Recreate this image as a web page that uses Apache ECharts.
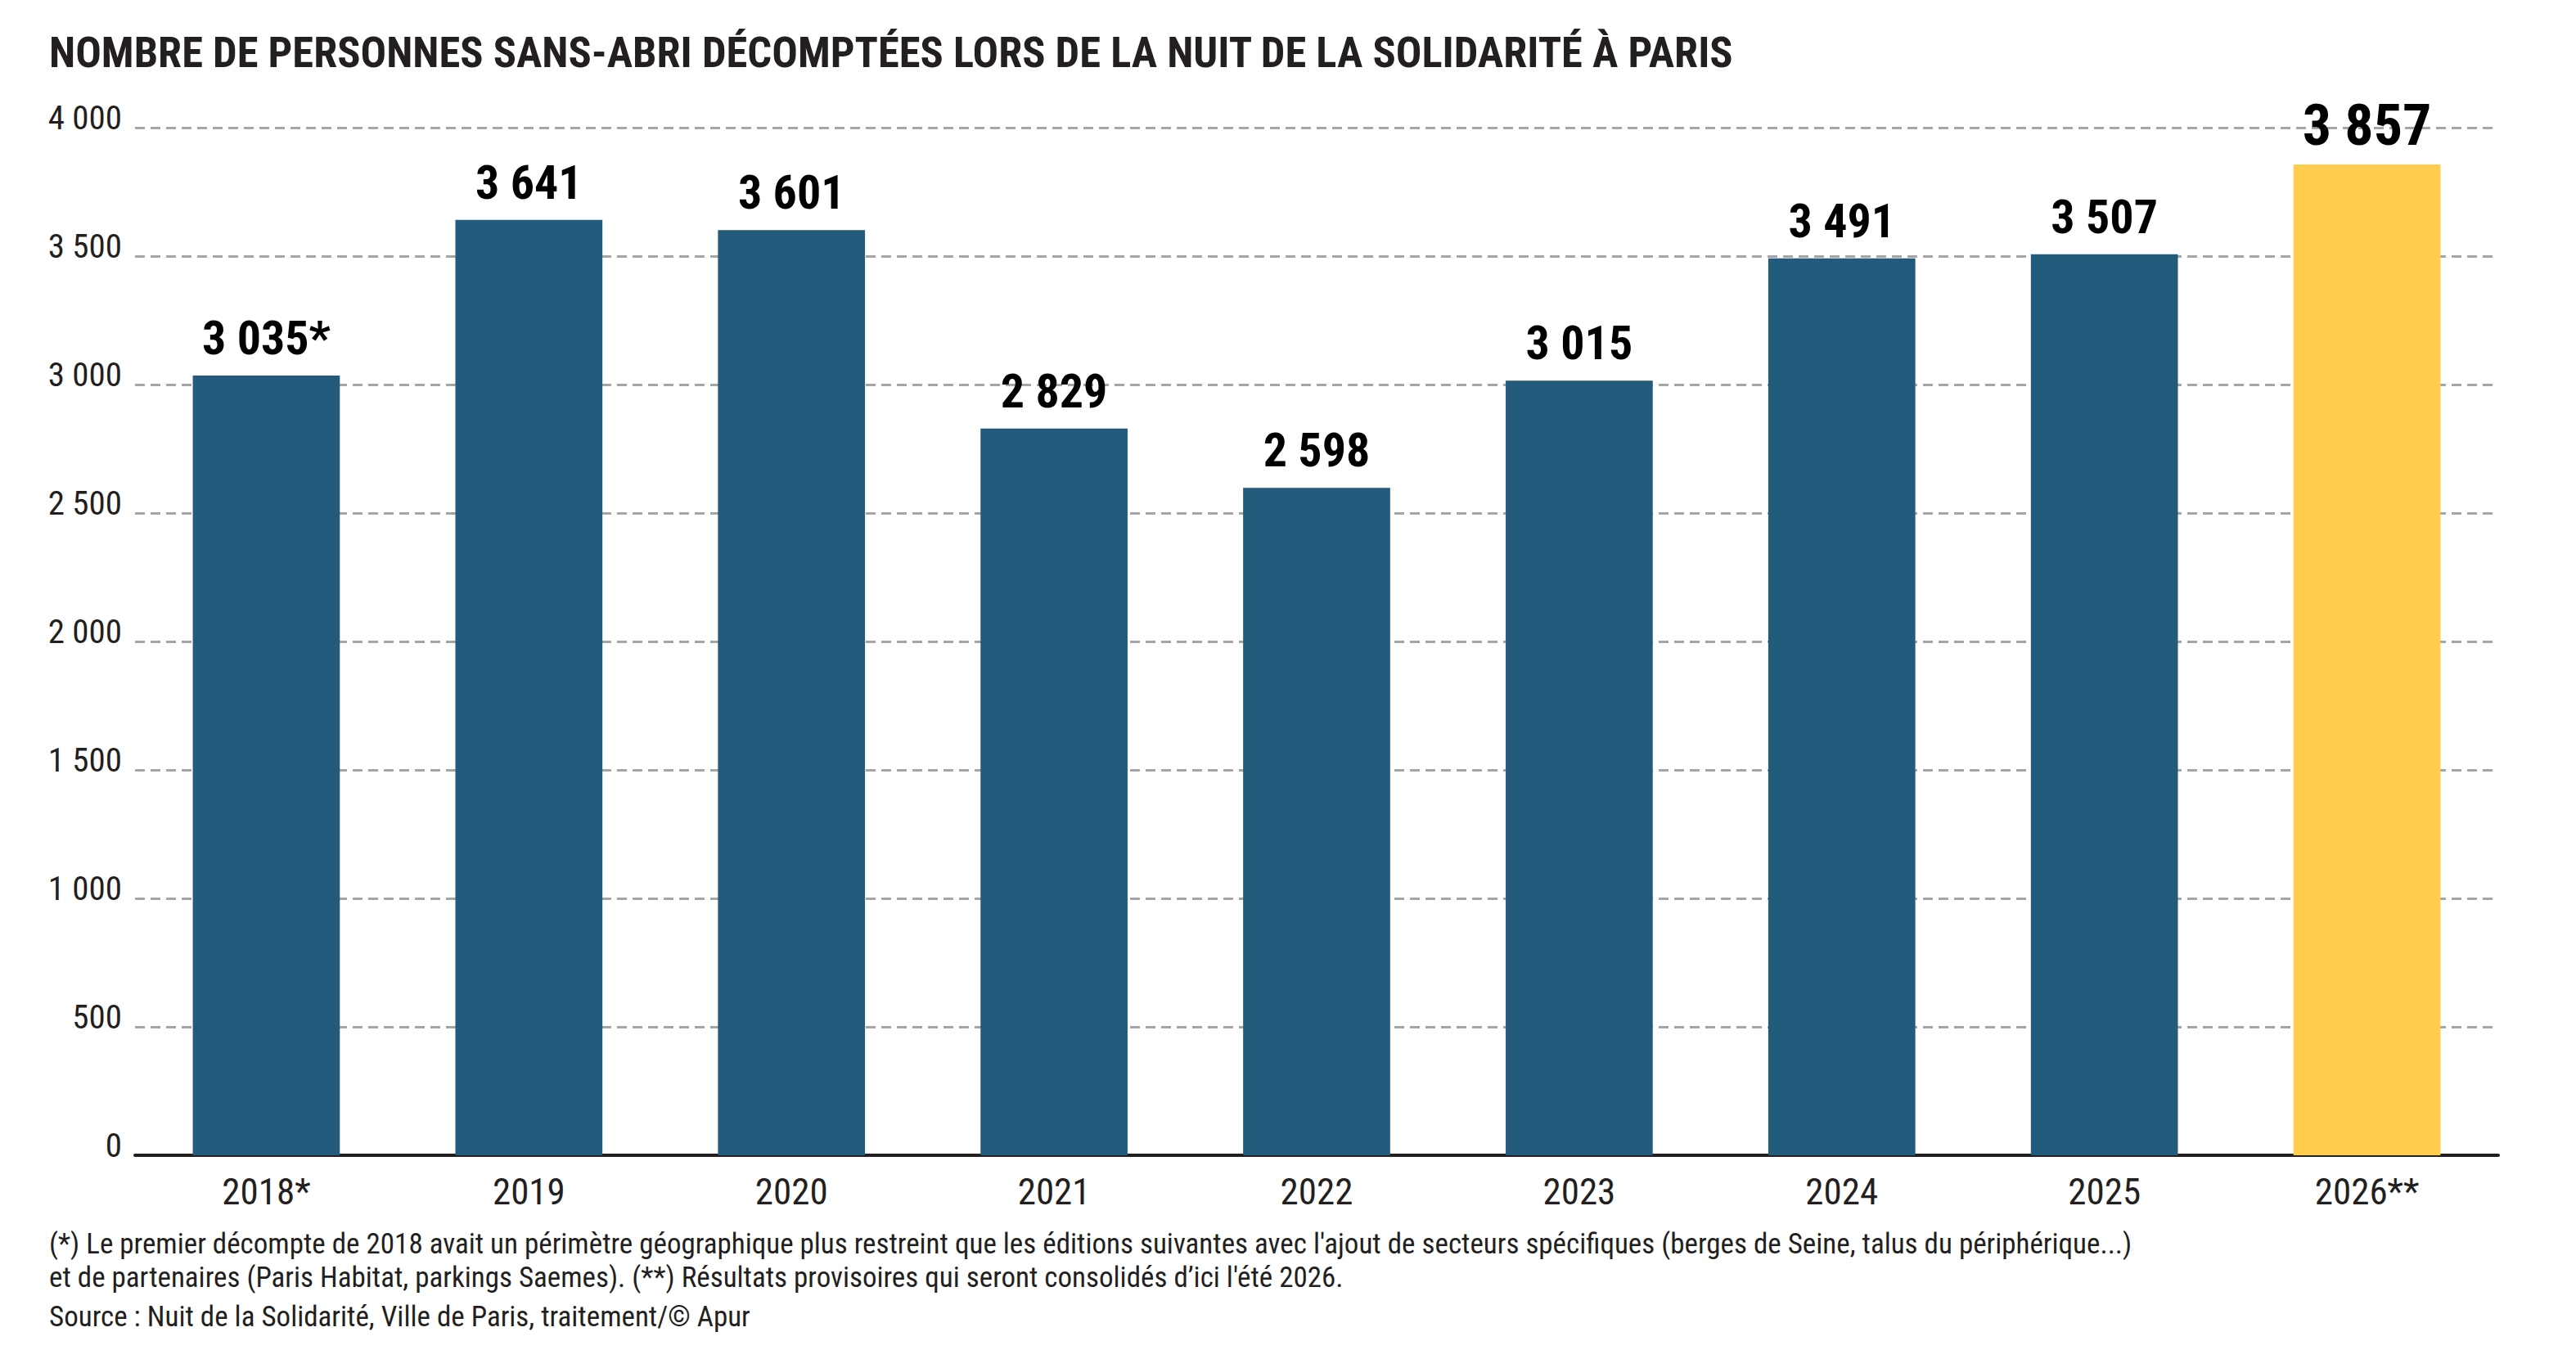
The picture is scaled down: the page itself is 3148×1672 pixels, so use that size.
<!DOCTYPE html>
<html>
<head>
<meta charset="utf-8">
<script src="https://cdn.jsdelivr.net/npm/echarts@6/dist/echarts.min.js"></script>
<style>
  html, body { margin: 0; padding: 0; background: #ffffff; }
  #chart { width: 3148px; height: 1672px; }
</style>
</head>
<body>
<div id="chart"></div>
<script>
// ---- data ----
const categories = ['2018*', '2019', '2020', '2021', '2022', '2023', '2024', '2025', '2026**'];
const values = [3035, 3641, 3601, 2829, 2598, 3015, 3491, 3507, 3857];
const labelSuffix = ['*', '', '', '', '', '', '', '', ''];
const highlightIndex = 8;
const yTicks = { min: 0, max: 4000, interval: 500 };

const titleText = 'NOMBRE DE PERSONNES SANS-ABRI DÉCOMPTÉES LORS DE LA NUIT DE LA SOLIDARITÉ À PARIS';
const noteLines = [
  "(*) Le premier décompte de 2018 avait un périmètre géographique plus restreint que les éditions suivantes avec l'ajout de secteurs spécifiques (berges de Seine, talus du périphérique...)",
  "et de partenaires (Paris Habitat, parkings Saemes). (**) Résultats provisoires qui seront consolidés d’ici l'été 2026."
];
const sourceText = 'Source : Nuit de la Solidarité, Ville de Paris, traitement/© Apur';

// ---- style ----
const FONT = "'Roboto Condensed', 'Liberation Sans Narrow', 'Arial Narrow', 'DejaVu Sans Condensed', sans-serif";
const INK = '#231f20';
const BLUE = '#235b7d';
const YELLOW = '#ffcc4e';

function fmt(v) {
  return String(v).replace(/\B(?=(\d{3})+(?!\d))/g, ' ');
}

const seriesData = values.map((v, i) => {
  const hi = i === highlightIndex;
  return {
    value: v,
    itemStyle: { color: hi ? YELLOW : BLUE },
    label: hi
      ? { fontSize: 70, lineHeight: 70, distance: 13 }
      : { fontSize: 58, lineHeight: 58, distance: 17 }
  };
});

const chart = echarts.init(document.getElementById('chart'), null, { renderer: 'svg' });

chart.setOption({
  animation: false,
  backgroundColor: '#ffffff',
  grid: { left: 165, right: 95, top: 156, bottom: 260, containLabel: false },
  xAxis: {
    type: 'category',
    data: categories,
    axisLine: { show: true, lineStyle: { color: INK, width: 4 } },
    axisTick: { show: false },
    axisLabel: { fontFamily: FONT, fontSize: 45, color: INK, margin: 22 }
  },
  yAxis: {
    type: 'value',
    min: yTicks.min,
    max: yTicks.max,
    interval: yTicks.interval,
    axisLine: { show: false },
    axisTick: { show: false },
    axisLabel: {
      fontFamily: FONT, fontSize: 41, color: INK, margin: 16,
      verticalAlign: 'bottom', lineHeight: 24,
      formatter: v => fmt(v)
    },
    splitLine: { show: true, lineStyle: { color: '#a5a5a5', width: 3, type: [12, 7] } }
  },
  series: [{
    type: 'bar',
    data: seriesData,
    barWidth: '56%',
    label: {
      show: true,
      position: 'top',
      fontFamily: FONT,
      fontWeight: 'bold',
      color: '#000000',
      formatter: p => fmt(p.value) + labelSuffix[p.dataIndex]
    }
  }],
  graphic: [
    { type: 'text', x: 60, y: 64, style: { text: titleText, fontFamily: FONT, fontWeight: 'bold', fontSize: 52.5, fill: INK, align: 'left', verticalAlign: 'middle' } },
    { type: 'text', x: 60, y: 1520, style: { text: noteLines[0], fontFamily: FONT, fontSize: 35, fill: INK, align: 'left', verticalAlign: 'middle' } },
    { type: 'text', x: 60, y: 1561, style: { text: noteLines[1], fontFamily: FONT, fontSize: 35, fill: INK, align: 'left', verticalAlign: 'middle' } },
    { type: 'text', x: 60, y: 1609, style: { text: sourceText, fontFamily: FONT, fontSize: 35, fill: INK, align: 'left', verticalAlign: 'middle' } }
  ]
});
</script>
</body>
</html>
